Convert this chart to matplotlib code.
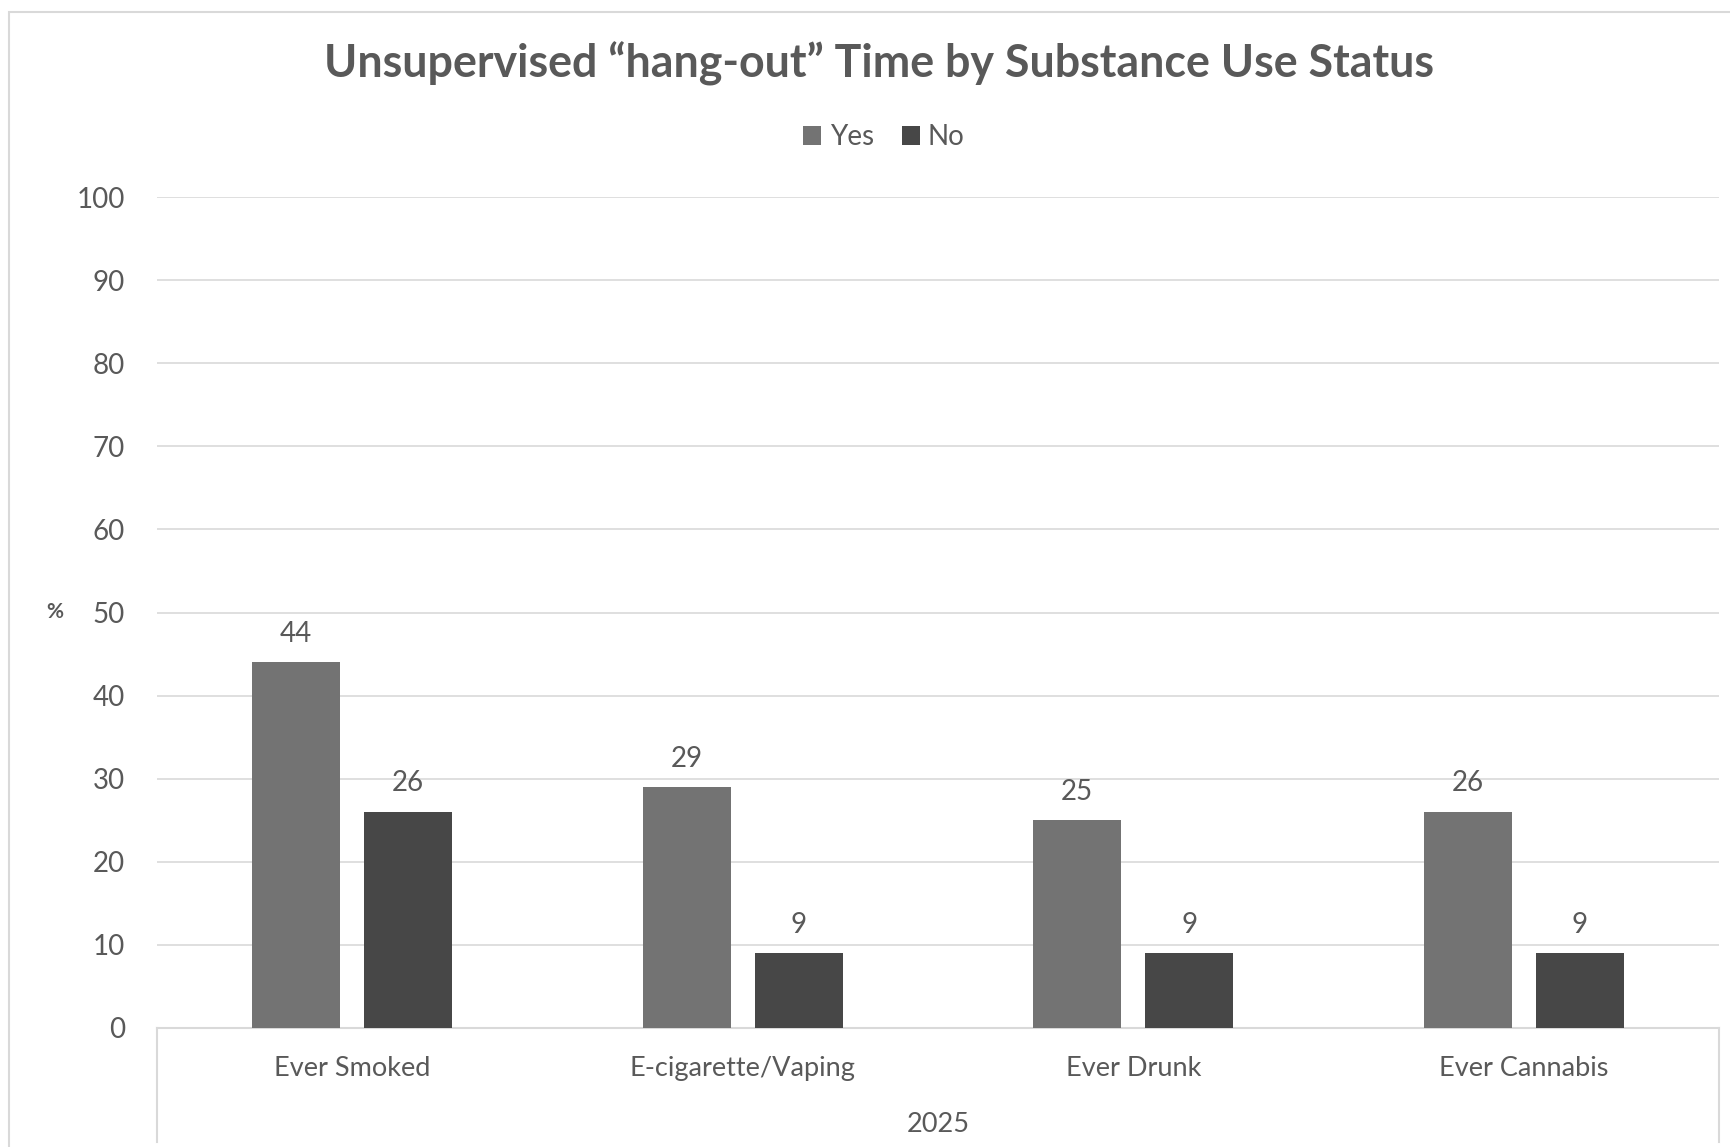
import matplotlib
matplotlib.use("Agg")
import matplotlib.pyplot as plt
from matplotlib.patches import Rectangle
from matplotlib.lines import Line2D
import numpy as np

# chart data
categories = ["Ever Smoked", "E-cigarette/Vaping", "Ever Drunk", "Ever Cannabis"]
yes_vals = [44, 29, 25, 26]
no_vals = [26, 9, 9, 9]
series_names = ["Yes", "No"]
group_label = "2025"
title = "Unsupervised \u201chang-out\u201d Time by Substance Use Status"

yes_color = "#737373"
no_color = "#474747"
text_color = "#595959"
grid_color = "#d9d9d9"

plt.rcParams["font.family"] = ["Lato", "DejaVu Sans"]

W, H = 1730, 1147
fig = plt.figure(figsize=(W / 100, H / 100), dpi=100)

# outer chart border
fig.patches.append(Rectangle((9 / W, -0.1), 1.2, 1 - 11.5 / H + 0.1,
                             transform=fig.transFigure, fill=False,
                             edgecolor=grid_color, linewidth=1.5))

ax = fig.add_axes([157 / W, 1 - 1028 / H, (1719 - 157) / W, (1028 - 197) / H])

x = np.arange(len(categories))
bw = 0.225
off = 0.1434
b1 = ax.bar(x - off, yes_vals, bw, color=yes_color, label=series_names[0], zorder=3)
b2 = ax.bar(x + off, no_vals, bw, color=no_color, label=series_names[1], zorder=3)

for bars, vals in ((b1, yes_vals), (b2, no_vals)):
    for rect, v in zip(bars, vals):
        ax.annotate(str(v), (rect.get_x() + rect.get_width() / 2, v),
                    xytext=(0, 20.5), textcoords="offset points",
                    ha="center", va="center", fontsize=20, color=text_color)

ax.set_xlim(-0.5, len(categories) - 0.5)
ax.set_ylim(0, 100)
ax.set_yticks(range(0, 101, 10))
ax.yaxis.grid(True, color=grid_color, linewidth=1.2, zorder=0)
ax.set_axisbelow(True)
for s in ["left", "right", "top"]:
    ax.spines[s].set_visible(False)
ax.spines["bottom"].set_color(grid_color)
ax.spines["bottom"].set_linewidth(1.5)

ax.set_xticks(x)
ax.set_xticklabels(categories)
ax.tick_params(axis="x", length=0, pad=20, labelsize=19.5, labelcolor=text_color)
ax.tick_params(axis="y", length=0, pad=23, labelsize=20, labelcolor=text_color)

ax.set_ylabel("%", rotation=0, fontsize=15, color=text_color, fontweight="bold",
              va="center", ha="center")
ax.yaxis.set_label_coords((55 - 157) / (1719 - 157), 0.5)

# multi-level category box
tr = ax.get_xaxis_transform()
for xe in (-0.5, len(categories) - 0.5):
    ax.add_line(Line2D([xe, xe], [0, -0.137], transform=tr, color=grid_color,
                       linewidth=1.5, clip_on=False))
ax.text(np.mean(x), (1028 - 1124) / (1028 - 197), group_label, transform=tr,
        ha="center", va="center", fontsize=19.5, color=text_color)

fig.text(879 / W, 1 - 64 / H, title, ha="center", va="center",
         fontsize=32.2, fontweight="bold", color=text_color)

fig.legend(handles=[b1, b2], labels=series_names, loc="center",
           bbox_to_anchor=(884 / W, 1 - 137 / H), ncol=2, frameon=False,
           fontsize=20, labelcolor=text_color, handlelength=0.65,
           handleheight=0.65, handletextpad=0.3, columnspacing=1.0)

fig.savefig("out.png", dpi=100)
